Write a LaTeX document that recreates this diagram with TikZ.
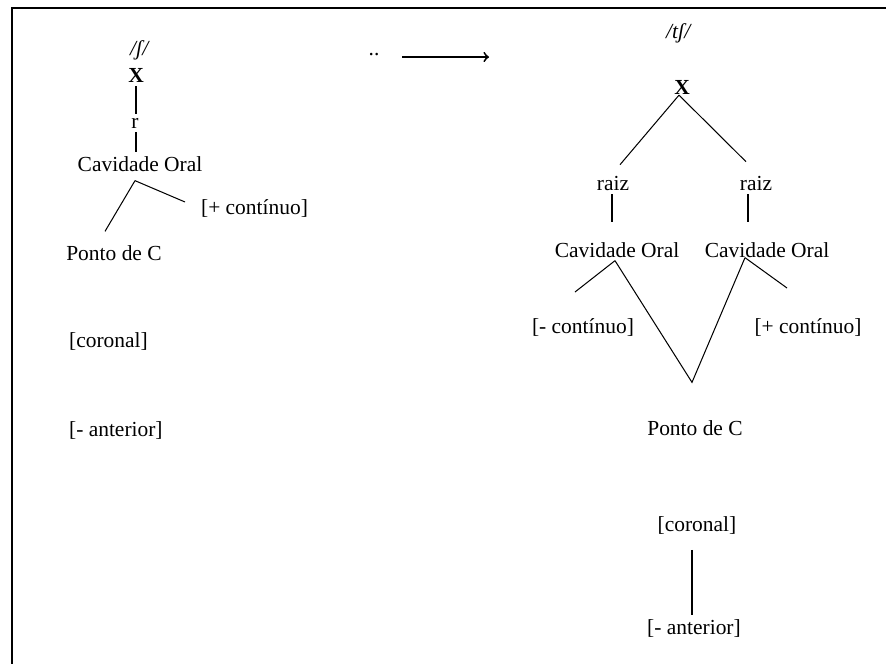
\documentclass[tikz,border=0pt]{standalone}
\usepackage{fontspec}
\setmainfont{Liberation Serif}
\usetikzlibrary{calc}

\begin{document}
\begin{tikzpicture}[x=0.536pt, y=-0.536pt, >=to]
	\def\xleft{0}
	\def\xright{886}
	\def\yup{0}
	\def\ydown{663}
	\useasboundingbox (\xleft, \yup) rectangle (\xright, \ydown);
	\clip (\xleft, \yup) rectangle (\xright, \ydown);

	\tikzset{
		lbl/.style={inner sep=2pt, font=\fontsize{11.5}{13}\selectfont},
		stem/.style={line width=0.8pt},
		branch/.style={line width=0.55pt}
	}

	% Frame
	\draw[line width=1.4pt] (12, 8) rectangle (\xright+20, \ydown+20);

	% Left tree
	\node[lbl] (fshL) at (140, 50) {\textit{/ʃ/}};
	\node[lbl] (xL) at (136, 75) {\textbf{X}};
	\node[lbl] (rL) at (135, 123) {r};
	\node[lbl] (cavL) at (140, 164) {Cavidade Oral};
	\node[lbl, anchor=west] (contL) at (197, 208) {[+ contínuo]};
	\node[lbl] (pontoL) at (114, 253) {Ponto de C};
	\node[lbl, anchor=west] (corL) at (65, 341) {[coronal]};
	\node[lbl, anchor=west] (antL) at (65, 430) {[- anterior]};

	\draw[stem] (xL.south) -- (xL.south |- rL.north);
	\draw[stem] (rL.south -| xL.south) -- (xL.south |- cavL.north);
	\coordinate (cavLb) at ($(cavL.south)+(-5,5)$);
	\draw[branch] (cavLb) -- ($(pontoL.north)+(-9,-10)$);
	\draw[branch] (cavLb) -- ($(contL.west)+(-12,-6)$);

	% Arrow
	\node[lbl] (dots) at (374, 55) {..};
	\coordinate (arrS) at (402, 57);
	\coordinate (arrE) at (489, 57);
	\draw[line width=1pt, ->] (arrS) -- (arrE);

	% Right tree
	\node[lbl] (tshR) at (679, 33) {\textit{/tʃ/}};
	\node[lbl] (xR) at (682, 87) {\textbf{X}};
	\node[lbl] (raizA) at (613, 183) {raiz};
	\node[lbl] (raizB) at (756, 183) {raiz};
	\node[lbl] (cavA) at (617, 250) {Cavidade Oral};
	\node[lbl] (cavB) at (767, 250) {Cavidade Oral};
	\node[lbl] (contA) at (583, 327) {[- contínuo]};
	\node[lbl] (contB) at (808, 327) {[+ contínuo]};
	\node[lbl] (pontoR) at (695, 428) {Ponto de C};
	\node[lbl] (corR) at (697, 525) {[coronal]};
	\node[lbl] (antR) at (694, 628) {[- anterior]};

	\coordinate (xRb) at ($(xR.south)+(-3,-3)$);
	\draw[branch] (xRb) -- ($(raizA.north)+(7,-7)$);
	\draw[branch] (xRb) -- ($(raizB.north)+(-10,-10)$);

	\coordinate (rAs) at ($(raizA.south)+(-1,0)$);
	\coordinate (rBs) at ($(raizB.south)+(-8,0)$);
	\draw[stem, shorten >=8.5pt] (rAs) -- (rAs |- cavA.north);
	\draw[stem, shorten >=8.5pt] (rBs) -- (rBs |- cavB.north);

	\coordinate (cavAb) at ($(cavA.south)+(-2,-1)$);
	\coordinate (cavBb) at ($(cavB.south)+(-22,-4)$);
	\coordinate (pv) at ($(pontoR.north)+(-3,-34)$);
	\draw[branch] (cavAb) -- ($(contA.north)+(-8,-22)$);
	\draw[branch] (cavBb) -- ($(contB.north)+(-21,-26)$);
	\draw[branch] (cavAb) -- (pv) -- (cavBb);

	\coordinate (corRs) at ($(corR.south)+(-5,0)$);
	\draw[stem, shorten <=6.4pt] (corRs) -- (corRs |- antR.north);
\end{tikzpicture}
\end{document}
